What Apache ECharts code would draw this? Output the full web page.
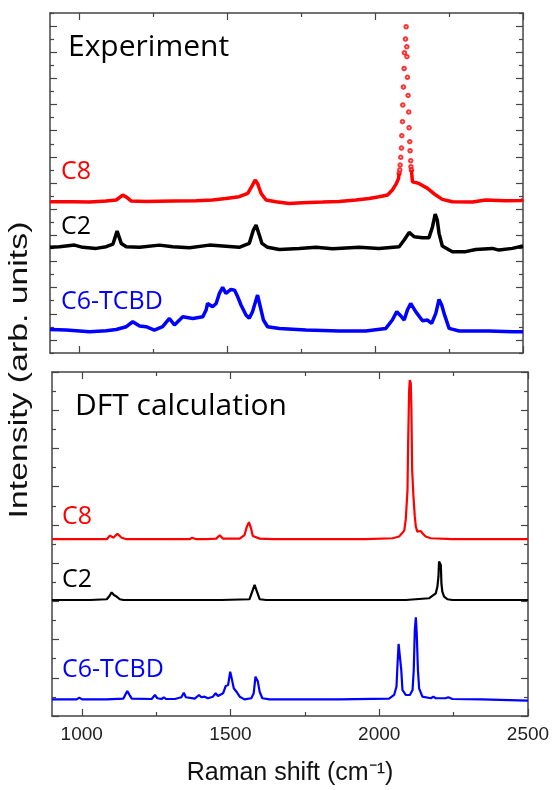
<!DOCTYPE html>
<html>
<head>
<meta charset="utf-8">
<script src="https://cdn.jsdelivr.net/npm/echarts@6/dist/echarts.min.js"></script>
<style>html,body{margin:0;padding:0;background:#fff;}#c{width:553px;height:790px;}</style>
</head>
<body>
<div id="c"></div>
<script>
// ---- Data (Raman shift in cm^-1, intensity in offset arbitrary units) ----
const xTicksMajor = [1000, 1500, 2000, 2500];
const xTicksMinor = [1250, 1750, 2250];

// Experiment (top panel)
const expC8Line = [[900,10.57],[977,10.57],[1034,10.54],[1090,10.62],[1124,10.70],[1146,11.08],[1160,10.90],[1175,10.62],[1225,10.59],[1315,10.62],[1394,10.64],[1450,10.70],[1495,10.82],[1540,10.95],[1569,11.21],[1585,11.84],[1594,12.23],[1602,11.97],[1614,11.21],[1631,10.70],[1664,10.57],[1709,10.44],[1754,10.49],[1822,10.54],[1878,10.59],[1935,10.70],[1980,10.82],[2013,10.95],[2042,11.08],[2058,11.46],[2072,11.97],[2079,12.35],[2081,12.74],[null,null],[2122.6,12.99],[2126,12.10],[2148,11.97],[2177,11.59],[2205,11.08],[2227,10.75],[2261,10.57],[2329,10.54],[2374,10.70],[2441,10.64],[2495,10.67],[2500,10.75]];
const expC8Peak = [[2081,12.74],[2083.2,12.99],[2084.4,13.37],[2086.6,13.96],[2088.9,14.67],[2090,15.62],[2092.3,16.69],[2093.4,17.96],[2095.6,19.34],[2097.9,20.76],[2099,21.96],[2102.4,23.01],[2104.6,23.95],[2106.9,22.42],[2107.5,21.66],[2109.1,20.08],[2111.3,18.70],[2113.6,17.43],[2114.7,16.23],[2117,15.16],[2118.1,14.47],[2120.3,13.70],[2121,13.24],[2122.6,12.99]];
const expC2 = [[900,7.08],[932,7.13],[983,7.25],[1011,7.08],[1056,7.00],[1090,7.13],[1113,7.33],[1127,8.32],[1141,7.38],[1158,7.13],[1203,7.08],[1270,7.25],[1315,7.13],[1372,7.05],[1439,7.25],[1484,7.18],[1540,7.08],[1574,7.38],[1588,8.40],[1597,8.78],[1608,8.02],[1617,7.38],[1636,7.08],[1676,6.92],[1743,7.00],[1800,7.08],[1856,6.97],[1946,7.08],[2013,7.00],[2081,7.13],[2098,7.64],[2115,8.22],[2132,7.89],[2160,7.82],[2182,7.82],[2194,8.66],[2203,9.63],[2210,9.17],[2216,8.15],[2227,7.18],[2261,6.75],[2306,6.75],[2340,6.92],[2396,7.00],[2419,6.87],[2464,7.00],[2500,7.18]];
const expC6 = [[900,0.80],[955,0.75],[1034,0.63],[1090,0.70],[1124,0.80],[1158,1.01],[1180,1.39],[1203,1.06],[1225,1.01],[1253,0.75],[1281,1.01],[1304,1.64],[1321,1.14],[1338,1.52],[1349,1.77],[1383,1.64],[1417,1.77],[1428,2.28],[1433,2.79],[1450,2.54],[1462,2.79],[1473,3.56],[1484,4.02],[1495,3.56],[1512,3.86],[1524,3.81],[1535,3.30],[1546,2.67],[1563,1.90],[1574,1.65],[1585,2.16],[1602,3.43],[1610,2.67],[1622,1.52],[1636,1.01],[1676,0.88],[1766,0.75],[1878,0.68],[1968,0.68],[2036,0.88],[2058,1.52],[2073,2.16],[2087,1.83],[2098,1.52],[2109,2.28],[2120,2.79],[2137,2.16],[2160,1.47],[2177,1.52],[2191,1.26],[2205,2.03],[2216,3.10],[2225,2.67],[2233,2.03],[2250,0.88],[2284,0.68],[2385,0.68],[2464,0.63],[2500,0.63]];

// DFT calculation (bottom panel)
const dftC8 = [[900,9.25],[966,9.25],[972,9.35],[978,9.25],[1084,9.25],[1095,9.44],[1106,9.33],[1120,9.54],[1134,9.33],[1151,9.25],[1240,9.25],[1246,9.35],[1257,9.25],[1363,9.25],[1371,9.33],[1385,9.25],[1408,9.25],[1413,9.35],[1419,9.25],[1452,9.28],[1464,9.46],[1475,9.28],[1531,9.28],[1547,9.47],[1555,9.91],[1562,10.14],[1569,9.82],[1575,9.42],[1598,9.28],[1642,9.25],[1866,9.25],[1955,9.26],[2045,9.30],[2067,9.39],[2084,9.70],[2089,10.26],[2093,11.30],[2095,11.83],[2097,14.18],[2099,15.84],[2100.5,17.06],[2102.7,17.58],[2106,17.41],[2108,16.19],[2110.6,12.87],[2115,11.48],[2119.5,10.43],[2123,9.91],[2128,9.65],[2134,9.56],[2140,9.68],[2145,9.56],[2156,9.39],[2173,9.30],[2246,9.26],[2313,9.25],[2500,9.25]];
const dftC2 = [[900,6.07],[1028,6.07],[1084,6.11],[1093,6.28],[1100.5,6.47],[1108,6.33],[1117,6.25],[1128,6.11],[1140,6.07],[1268,6.07],[1274,6.14],[1279,6.07],[1424,6.07],[1430,6.14],[1436,6.07],[1458,6.07],[1464,6.16],[1469,6.07],[1564,6.11],[1573,6.51],[1581,6.86],[1589,6.51],[1598,6.11],[1620,6.07],[1866,6.07],[2089,6.07],[2167,6.16],[2190,6.42],[2195.5,6.77],[2199,7.29],[2201,8.08],[2204,8.11],[2207,7.90],[2209,6.94],[2212,6.51],[2218,6.25],[2229,6.11],[2246,6.07],[2500,6.07]];
const dftC6 = [[900,0.87],[983,0.87],[992,0.96],[1001,0.87],[1073,0.87],[1078,0.93],[1084,0.87],[1140,0.91],[1146,1.10],[1153,1.31],[1160,1.12],[1168,0.91],[1235,0.89],[1246,1.10],[1254,0.93],[1268,0.89],[1276,0.98],[1283,0.89],[1302,0.89],[1307,0.98],[1313,0.89],[1335,0.98],[1343,1.22],[1350,0.98],[1380,0.91],[1394,1.10],[1402,0.98],[1413,1.01],[1424,0.93],[1441,1.01],[1450,1.19],[1458,1.05],[1475,1.19],[1484,1.57],[1492,1.62],[1499,2.32],[1504,1.97],[1511,1.45],[1520,1.27],[1531,1.01],[1547,0.87],[1570,0.93],[1578,1.19],[1584,2.06],[1589,2.09],[1592,1.80],[1598,1.27],[1607,0.93],[1631,0.87],[1866,0.87],[2033,0.91],[2050,1.10],[2058,1.54],[2061,2.58],[2065,3.77],[2070,3.77],[2074,2.41],[2078,1.36],[2089,1.10],[2103,1.10],[2112,1.36],[2116,2.41],[2119.5,4.50],[2123,5.16],[2126,4.33],[2130,2.41],[2134,1.45],[2145,1.01],[2173,0.93],[2182,1.01],[2190,0.93],[2223,0.93],[2232,0.98],[2246,0.89],[2344,0.87],[2346,0.80],[2500,0.80]];

// ---- Chart ----
const frame = '#444';
const RED = '#ff0000', BLACK = '#000000', BLUE = '#0000ff';
function xAx(grid, pos, ticks, len, line, labels) {
  return {
    type: 'value', gridIndex: grid, position: pos, min: 900, max: 2500,
    axisLine: {show: line, onZero: false, lineStyle: {color: frame, width: 1.5}},
    axisTick: {show: true, inside: true, length: len, customValues: ticks, lineStyle: {color: frame, width: 1.2}},
    axisLabel: labels ? {show: true, customValues: xTicksMajor, margin: 9, color: '#222', fontSize: 19, fontFamily: 'Liberation Sans', formatter: function (v) { return String(v); }} : {show: false},
    splitLine: {show: false}
  };
}
function yAx(grid, pos, min, max, tickLen, minorLen) {
  return {
    type: 'value', gridIndex: grid, position: pos, min: min, max: max, interval: 2,
    axisLine: {show: true, onZero: false, lineStyle: {color: frame, width: 1.5}},
    axisTick: {show: true, inside: true, length: tickLen, lineStyle: {color: frame, width: 1.2}},
    minorTick: {show: true, splitNumber: 2, length: minorLen, lineStyle: {color: frame, width: 1.2}},
    axisLabel: {show: false}, splitLine: {show: false}, minorSplitLine: {show: false}
  };
}
function txt(x, y, s, color, size) {
  return {type: 'text', x: x, y: y, style: {text: s, fill: color, font: size + 'px "Open Sans"', align: 'left', verticalAlign: 'middle', textAlign: 'left', textVerticalAlign: 'middle'}};
}
const chart = echarts.init(document.getElementById('c'), null, {renderer: 'canvas'});
chart.setOption({
  animation: false,
  backgroundColor: '#fff',
  grid: [
    {left: 50, right: 30, top: 13, height: 340},
    {left: 52, right: 25, top: 372, height: 344}
  ],
  xAxis: [
    xAx(0, 'bottom', xTicksMajor, 7, true, false),
    xAx(0, 'bottom', xTicksMinor, 4, false, false),
    xAx(0, 'top', xTicksMajor, 7, true, false),
    xAx(0, 'top', xTicksMinor, 4, false, false),
    xAx(1, 'bottom', xTicksMajor, 7, true, true),
    xAx(1, 'bottom', xTicksMinor, 4, false, false),
    xAx(1, 'top', xTicksMajor, 7, true, false),
    xAx(1, 'top', xTicksMinor, 4, false, false)
  ],
  yAxis: [
    yAx(0, 'left', -1, 25, 4, 7),
    yAx(0, 'right', -1, 25, 4, 7),
    yAx(1, 'left', 0, 18, 7, 4),
    yAx(1, 'right', 0, 18, 7, 4)
  ],
  series: [
    {type: 'line', xAxisIndex: 0, yAxisIndex: 0, data: expC8Line, showSymbol: false, connectNulls: false, lineStyle: {color: RED, width: 3.5}},
    {type: 'scatter', xAxisIndex: 0, yAxisIndex: 0, data: expC8Peak, symbol: 'emptyCircle', symbolSize: 3.5, itemStyle: {color: RED, borderColor: RED, borderWidth: 1.5}},
    {type: 'line', xAxisIndex: 0, yAxisIndex: 0, data: expC2, showSymbol: false, lineStyle: {color: BLACK, width: 3.5}},
    {type: 'line', xAxisIndex: 0, yAxisIndex: 0, data: expC6, showSymbol: false, lineStyle: {color: BLUE, width: 3.5}},
    {type: 'line', xAxisIndex: 4, yAxisIndex: 2, data: dftC8, showSymbol: false, lineStyle: {color: RED, width: 2.2}},
    {type: 'line', xAxisIndex: 4, yAxisIndex: 2, data: dftC2, showSymbol: false, lineStyle: {color: BLACK, width: 2.2}},
    {type: 'line', xAxisIndex: 4, yAxisIndex: 2, data: dftC6, showSymbol: false, lineStyle: {color: BLUE, width: 2.2}}
  ],
  graphic: [
    txt(68, 47, 'Experiment', BLACK, 30),
    txt(61, 172, 'C8', RED, 25),
    txt(61, 227, 'C2', BLACK, 25),
    txt(61, 302, 'C6-TCBD', BLUE, 25),
    txt(75, 406, 'DFT calculation', BLACK, 30),
    txt(62, 517, 'C8', RED, 25),
    txt(62, 580, 'C2', BLACK, 25),
    txt(62, 670, 'C6-TCBD', BLUE, 25),
    {type: 'text', x: 290, y: 773, style: {text: 'Raman shift (cm\u207B\u00B9)', fill: '#111', font: '25px "Liberation Sans"', align: 'center', verticalAlign: 'middle', textAlign: 'center', textVerticalAlign: 'middle'}},
    {type: 'text', x: 20, y: 370, rotation: Math.PI / 2, scaleX: 1.3, style: {text: 'Intensity (arb. units)', fill: '#111', font: '26px "Liberation Sans"', align: 'center', verticalAlign: 'middle', textAlign: 'center', textVerticalAlign: 'middle'}}
  ]
});
</script>
</body>
</html>
